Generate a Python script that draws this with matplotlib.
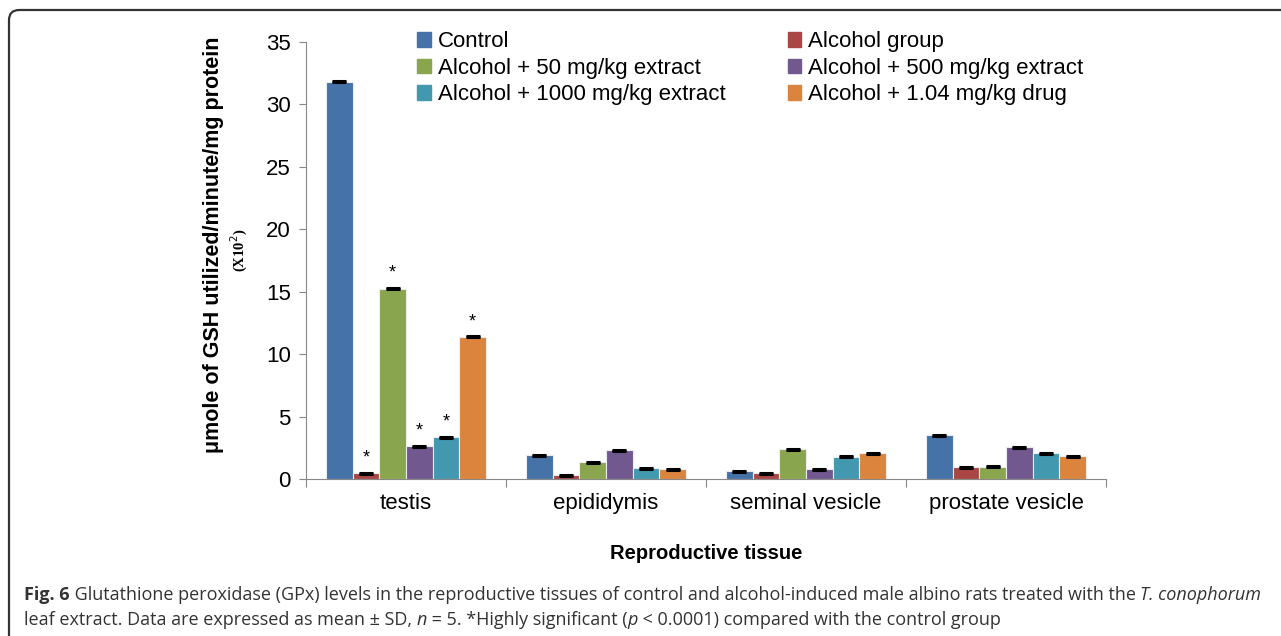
import numpy as np
import matplotlib
matplotlib.use('Agg')
import matplotlib.pyplot as plt
from matplotlib.patches import FancyBboxPatch, Patch

tissues = ['testis', 'epididymis', 'seminal vesicle', 'prostate vesicle']
groups = ['Control', 'Alcohol group', 'Alcohol + 50 mg/kg extract',
          'Alcohol + 500 mg/kg extract', 'Alcohol + 1000 mg/kg extract',
          'Alcohol + 1.04 mg/kg drug']
colors = ['#4572A7', '#AA4643', '#89A54E', '#71588F', '#4198AF', '#DB843D']

control = [31.8, 1.92, 0.64, 3.52]
alcohol = [0.48, 0.30, 0.48, 0.94]
ext50 = [15.25, 1.34, 2.38, 0.98]
ext500 = [2.64, 2.32, 0.80, 2.54]
ext1000 = [3.36, 0.86, 1.79, 2.08]
drug = [11.38, 0.80, 2.08, 1.84]
sd = 0.04
# asterisks only for testis, groups 2..6
star_testis = [False, True, True, True, True, True]

series = [control, alcohol, ext50, ext500, ext1000, drug]

plt.rcParams['font.family'] = ['Liberation Sans', 'DejaVu Sans']
fig = plt.figure(figsize=(12.81, 6.36), dpi=100)
ax = fig.add_axes([306/1281, 1-479/636, 800/1281, 437/636])

x = np.arange(len(tissues))
w = 0.8/6
for i, vals in enumerate(series):
    pos = x - 0.4 + w*(i+0.5)
    ax.bar(pos, vals, w, color=colors[i], edgecolor='#e8ecef', linewidth=0.8,
           label=groups[i], zorder=2)
    ax.errorbar(pos, vals, yerr=sd, fmt='none', ecolor='black', capsize=5,
                capthick=2.2, elinewidth=1, zorder=3)
    if star_testis[i]:
        ax.text(pos[0], vals[0] + 0.55, '*', ha='center', va='bottom',
                fontsize=13)

ax.set_xlim(-0.5, 3.5)
ax.set_ylim(0, 35)
ax.set_yticks(range(0, 36, 5))
ax.tick_params(axis='y', labelsize=16, direction='out', length=5,
               color='#888888', pad=6)
ax.set_xticks(np.arange(-0.5, 4, 1))
ax.set_xticklabels([])
ax.set_xticks(x, minor=True)
ax.set_xticklabels(tissues, minor=True)
ax.tick_params(axis='x', which='major', direction='out', length=6,
               color='#888888')
ax.tick_params(axis='x', which='minor', length=0, labelsize=16, pad=10)
for s in ['top', 'right']:
    ax.spines[s].set_visible(False)
for s in ['left', 'bottom']:
    ax.spines[s].set_color('#888888')

ax.set_xlabel('Reproductive tissue', fontsize=14.5, fontweight='bold', labelpad=22)
fig.text(213/1281, 1-245/636, 'μmole of GSH utilized/minute/mg protein',
         rotation=90, ha='center', va='center', fontsize=15.5, fontweight='bold')
fig.text(239/1281, 1-250/636, '(X10$^{2}$)', rotation=90, ha='center',
         va='center', fontsize=10.5, fontweight='bold', family='Liberation Serif')

handles = [Patch(color=c) for c in colors]
order = [0, 2, 4, 1, 3, 5]
ax.legend([handles[k] for k in order], [groups[k] for k in order], ncol=2,
          frameon=False, fontsize=16, loc='upper left',
          bbox_to_anchor=(0.128, 1.045), handlelength=0.62, handleheight=0.62,
          handletextpad=0.3, columnspacing=2.8, labelspacing=0.25,
          borderaxespad=0)

# frame around figure
frame = FancyBboxPatch((9/1281, -0.05), 1.2, 1-10/636+0.05,
                       boxstyle='round,pad=0,rounding_size=0.008',
                       transform=fig.transFigure, fill=False,
                       edgecolor='#333333', linewidth=1.6, mutation_aspect=2)
fig.patches.append(frame)

# caption with mixed styles
cap_font = ['Open Sans', 'DejaVu Sans']
cap_size = 12.95
line1 = [('Fig. 6', 'bold', 'normal'),
         (' Glutathione peroxidase (GPx) levels in the reproductive tissues of control and alcohol-induced male albino rats treated with the ', 'normal', 'normal'),
         ('T. conophorum', 'normal', 'italic')]
line2 = [('leaf extract. Data are expressed as mean ± SD, ', 'normal', 'normal'),
         ('n', 'normal', 'italic'),
         (' = 5. *Highly significant (', 'normal', 'normal'),
         ('p', 'normal', 'italic'),
         (' < 0.0001) compared with the control group', 'normal', 'normal')]

fig.canvas.draw()
r = fig.canvas.get_renderer()
for line, ypix in [(line1, 600), (line2, 625)]:
    xpix = 24
    for txt, wt, st in line:
        t = fig.text(xpix/1281, 1-ypix/636, txt, fontsize=cap_size,
                     fontweight=wt, style=st, family=cap_font,
                     color='#333333', va='baseline', ha='left')
        bb = t.get_window_extent(renderer=r)
        xpix += bb.width

fig.savefig('out.png', dpi=100)
